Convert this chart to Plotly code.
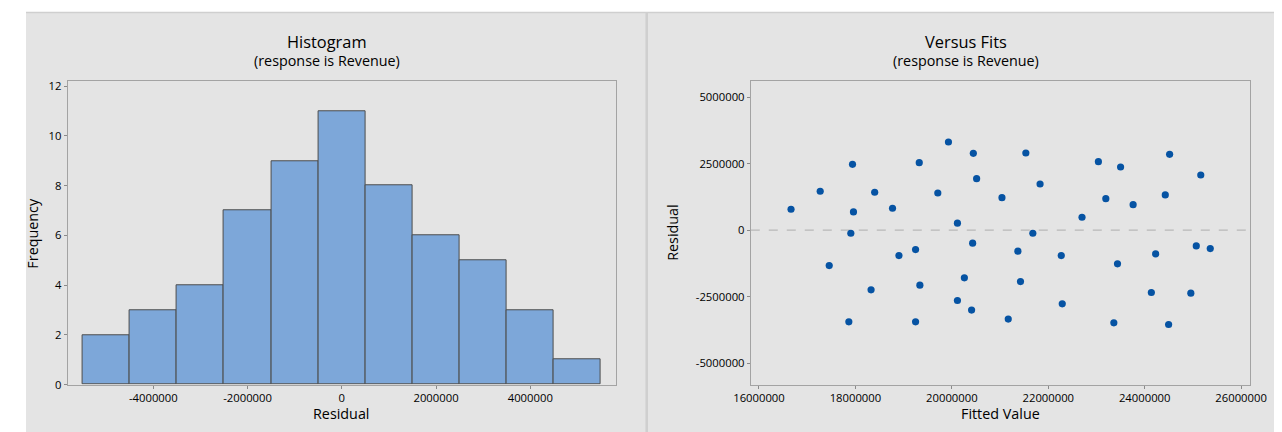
import plotly.graph_objects as go

# ---------------- data ----------------
hist_bin_centers = [-5000000, -4000000, -3000000, -2000000, -1000000, 0,
                    1000000, 2000000, 3000000, 4000000, 5000000]
hist_counts = [2, 3, 4, 7, 9, 11, 8, 6, 5, 3, 1]
hist_xticks = [-4000000, -2000000, 0, 2000000, 4000000]
hist_xtick_labels = ["-4000000", "-2000000", "0", "2000000", "4000000"]
hist_yticks = [0, 2, 4, 6, 8, 10, 12]

fitted_values = [16.665e6, 17.27e6, 17.94e6, 17.96e6, 17.905e6, 17.457e6, 18.40e6,
                 18.77e6, 18.325e6, 17.864e6, 18.903e6, 19.248e6, 19.324e6, 19.337e6,
                 19.248e6, 19.709e6, 19.93e6, 20.116e6, 20.446e6, 20.514e6, 20.432e6,
                 20.26e6, 20.116e6, 20.41e6, 21.04e6, 21.535e6, 21.83e6, 21.68e6,
                 21.37e6, 21.424e6, 21.17e6, 22.27e6, 22.29e6, 22.70e6, 23.04e6,
                 23.194e6, 23.50e6, 23.436e6, 23.36e6, 23.76e6, 24.227e6, 24.138e6,
                 24.427e6, 24.517e6, 24.496e6, 25.163e6, 25.07e6, 25.36e6, 24.957e6]
residuals = [0.788e6, 1.463e6, 2.476e6, 0.686e6, -0.113e6, -1.328e6, 1.425e6,
             0.825e6, -2.239e6, -3.44e6, -0.952e6, -0.727e6, 2.536e6, -2.063e6,
             -3.44e6, 1.399e6, 3.312e6, 0.263e6, 2.888e6, 1.936e6, -0.488e6,
             -1.789e6, -2.64e6, -3.0e6, 1.223e6, 2.9e6, 1.737e6, -0.113e6,
             -0.788e6, -1.928e6, -3.338e6, -0.952e6, -2.764e6, 0.488e6, 2.573e6,
             1.185e6, 2.374e6, -1.264e6, -3.477e6, 0.96e6, -0.889e6, -2.34e6,
             1.324e6, 2.851e6, -3.54e6, 2.074e6, -0.589e6, -0.69e6, -2.363e6]
fit_xticks = [16000000, 18000000, 20000000, 22000000, 24000000, 26000000]
fit_xtick_labels = ["16000000", "18000000", "20000000", "22000000", "24000000", "26000000"]
fit_yticks = [-5000000, -2500000, 0, 2500000, 5000000]
fit_ytick_labels = ["-5000000", "-2500000", "0", "2500000", "5000000"]

# ---------------- layout helpers ----------------
# positions below are given in target-picture pixels and mapped to paper
S, AX, AY = 0.976, 23.8, 9.8
W, H = 1310, 436
def px(x):
    return ((x - AX) / S) / W
def py(y):
    return 1 - ((y - AY) / S) / H
def fs(size):
    return size / S

FONT = "Open Sans, Noto Sans, DejaVu Sans, sans-serif"
TXT = "#000000"
FRAME = "#a3a3a3"
PANEL = "#e4e4e4"

fig = go.Figure()

fig.add_trace(go.Bar(
    x=hist_bin_centers, y=hist_counts, width=1000000,
    marker=dict(color="#7da7d9", line=dict(color="#4d4d4d", width=1)),
    xaxis="x", yaxis="y", showlegend=False, hoverinfo="x+y",
))

fig.add_trace(go.Scatter(
    x=fitted_values, y=residuals, mode="markers",
    marker=dict(color="#0653a3", size=fs(7)),
    xaxis="x2", yaxis="y2", showlegend=False,
))

axis_common = dict(
    showline=True, linecolor=FRAME, linewidth=1, mirror=True,
    showgrid=False, zeroline=False, ticks="outside", ticklen=3,
    tickcolor="#8a8a8a", tickwidth=1,
    tickfont=dict(family=FONT, size=fs(11), color=TXT),
)

fig.update_layout(
    width=W, height=H, autosize=False,
    margin=dict(l=0, r=0, t=0, b=0),
    paper_bgcolor="white", plot_bgcolor="white",
    bargap=0,
    xaxis=dict(domain=[px(65.5), px(615)], anchor="y",
               range=[-5820000, 5810000], tickmode="array",
               tickvals=hist_xticks, ticktext=hist_xtick_labels, **axis_common),
    yaxis=dict(domain=[py(383), py(80)], anchor="x",
               range=[0, 12.2], tickmode="array", tickvals=hist_yticks,
               **axis_common),
    xaxis2=dict(domain=[px(750.6), px(1251.5)], anchor="y2",
                range=[15830000, 26190000], tickmode="array",
                tickvals=fit_xticks, ticktext=fit_xtick_labels, **axis_common),
    yaxis2=dict(domain=[py(383.3), py(79.3)], anchor="x2",
                range=[-5810000, 5620000], tickmode="array",
                tickvals=fit_yticks, ticktext=fit_ytick_labels, **axis_common),
)

shapes = [
    dict(type="rect", xref="paper", yref="paper", x0=0, x1=1, y0=0, y1=py(10.5),
         fillcolor="#cfcfcf", line=dict(width=0), layer="below"),
    dict(type="rect", xref="paper", yref="paper", x0=0, x1=px(645), y0=0, y1=py(12),
         fillcolor=PANEL, line=dict(width=0), layer="below"),
    dict(type="rect", xref="paper", yref="paper", x0=px(647.5), x1=1, y0=0, y1=py(12),
         fillcolor=PANEL, line=dict(width=0), layer="below"),
    dict(type="line", xref="x2 domain", yref="y2", x0=0, x1=1, y0=0, y1=0,
         line=dict(color="#b8b8b8", width=1.2, dash="dash"), layer="below"),
]
fig.update_layout(shapes=shapes)

annotations = [
    dict(text="Histogram", x=px(325.5), y=py(40), font=dict(size=fs(16))),
    dict(text="(response is Revenue)", x=px(325.5), y=py(59), font=dict(size=fs(14))),
    dict(text="Versus Fits", x=px(966), y=py(40), font=dict(size=fs(16))),
    dict(text="(response is Revenue)", x=px(966), y=py(59), font=dict(size=fs(14))),
    dict(text="Residual", x=px(340), y=py(412), font=dict(size=fs(14))),
    dict(text="Fitted Value", x=px(1001), y=py(412), font=dict(size=fs(14))),
    dict(text="Frequency", x=px(30), y=py(232), font=dict(size=fs(14)), textangle=-90),
    dict(text="Residual", x=px(672), y=py(231), font=dict(size=fs(14)), textangle=-90),
]
for a in annotations:
    a.update(xref="paper", yref="paper", showarrow=False,
             xanchor="center", yanchor="middle")
    a["font"].update(family=FONT, color=TXT)
fig.update_layout(annotations=annotations)

fig.write_html("out.html")
